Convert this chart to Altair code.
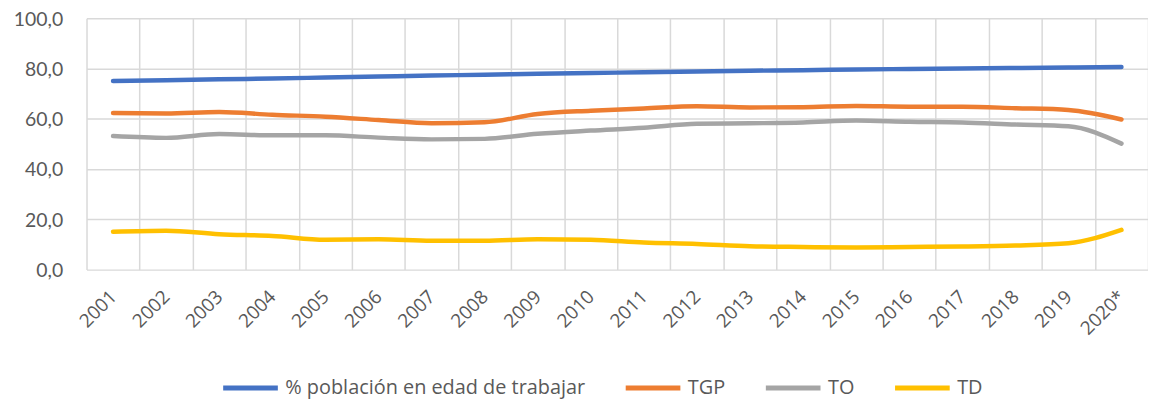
import altair as alt
import pandas as pd

years = ["2001", "2002", "2003", "2004", "2005", "2006", "2007", "2008", "2009", "2010",
         "2011", "2012", "2013", "2014", "2015", "2016", "2017", "2018", "2019", "2020*"]
pet = [75.0, 75.3, 75.7, 76.0, 76.4, 76.8, 77.2, 77.5, 77.9, 78.2,
       78.5, 78.8, 79.1, 79.3, 79.6, 79.8, 80.0, 80.2, 80.4, 80.6]
tgp = [62.3, 62.1, 62.7, 61.6, 60.8, 59.5, 58.2, 58.6, 61.9, 63.2,
       64.1, 65.0, 64.5, 64.6, 65.1, 64.8, 64.8, 64.2, 63.5, 59.7]
to = [53.1, 52.4, 53.9, 53.4, 53.4, 52.5, 51.8, 52.0, 54.0, 55.3,
      56.4, 58.0, 58.2, 58.5, 59.3, 58.8, 58.5, 57.7, 57.0, 50.1]
td = [15.1, 15.5, 14.1, 13.4, 11.9, 12.1, 11.5, 11.5, 12.1, 11.9,
      10.8, 10.2, 9.3, 9.0, 8.8, 9.0, 9.2, 9.6, 10.5, 15.8]

series_names = ["% población en edad de trabajar", "TGP", "TO", "TD"]
series_colors = ["#4472C4", "#ED7D31", "#A5A5A5", "#FFC000"]
series_values = [pet, tgp, to, td]

rows = []
for name, vals in zip(series_names, series_values):
    for y, v in zip(years, vals):
        rows.append({"year": y, "serie": name, "valor": v})
df = pd.DataFrame(rows)

FONT = "Open Sans"
YFONT = "Lato"
TXT = "#595959"
GRID = "#D9D9D9"

chart = alt.Chart(df).mark_line(
    strokeWidth=4.5, strokeCap="round", strokeJoin="round", interpolate="monotone"
).encode(
    x=alt.X("year:N", sort=years, title=None,
            scale=alt.Scale(type="band", paddingInner=0, paddingOuter=0),
            axis=alt.Axis(tickBand="extent", grid=True, gridColor=GRID, gridWidth=1.5,
                          domain=False, ticks=False, labelAngle=-45, labelAlign="right",
                          labelBaseline="middle", labelPadding=24,
                          labelFont=FONT, labelFontSize=19, labelColor=TXT)),
    y=alt.Y("valor:Q", title=None,
            scale=alt.Scale(domain=[0, 100], nice=False),
            axis=alt.Axis(values=[0, 20, 40, 60, 80, 100], grid=True, gridColor=GRID,
                          gridWidth=1.5, domain=False, ticks=False, labelPadding=24,
                          labelBaseline="alphabetic", labelOffset=7,
                          labelExpr="replace(format(datum.value, '.1f'), '.', ',')",
                          labelFont=YFONT, labelFontSize=19.5, labelColor=TXT)),
    color=alt.Color("serie:N", sort=series_names,
                    scale=alt.Scale(domain=series_names, range=series_colors),
                    legend=alt.Legend(title=None, orient="none", direction="horizontal",
                                      legendX=135, legendY=342, symbolType="stroke",
                                      symbolSize=3025, symbolStrokeWidth=5,
                                      columnPadding=30, labelOffset=5, labelLimit=0,
                                      labelFont=FONT, labelFontSize=20, labelColor=TXT)),
).properties(
    width=1068, height=253,
    autosize=alt.AutoSizeParams(type="none"),
    padding={"left": 79, "top": 9, "right": 0, "bottom": 140},
).configure_view(stroke=None)

chart.save("out.html", embed_options={"renderer": "svg", "actions": False})
